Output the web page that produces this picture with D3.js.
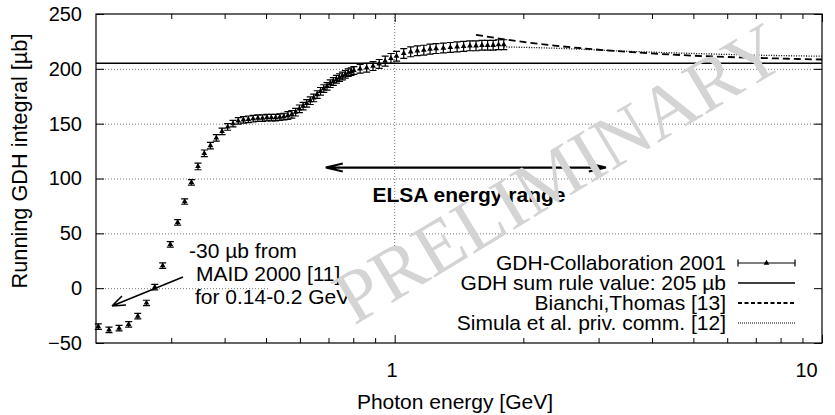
<!DOCTYPE html>
<html><head><meta charset="utf-8">
<script src="https://cdn.jsdelivr.net/npm/d3@7/dist/d3.min.js"></script>
<style>body{margin:0;background:#fff}</style>
</head><body>
<svg id="c" width="835" height="415"></svg>
<script>
// ---- data ----
const energyMAMI = [0.2025,0.2145,0.2265,0.2385,0.2505,0.2625,0.2745,0.2865,0.2985,0.3105,
  0.3225,0.3345,0.3465,0.3585,0.3705,0.3825,0.3945,0.4065,0.4185,0.4305,
  0.4425,0.4545,0.4665,0.4785,0.4905,0.5025,0.5145,0.5265,0.5385,0.5505,
  0.5625,0.5745,0.5865,0.5985,0.6105,0.6225,0.6345,0.6465,0.6585,0.6705,
  0.6825,0.6945,0.7065,0.7185,0.7305,0.7425,0.7545,0.7665,0.7785,0.7905,0.8025];
const valueMAMI = [-35,-38,-36.5,-33,-25.5,-13.5,1,20.5,40,60,
  79,96.5,111,123,130,137,143,147,150,152.5,
  153.5,154,154.5,155,155,155.5,155.5,155.5,156,156.5,
  157.5,158.5,160.5,163.5,166,168.5,171,173.5,176.5,179.5,
  182,184,186.5,188.5,190.5,192,193.5,195,196.5,197.5,198.5];
const errorMAMI = [2.5,2.5,2.5,2.5,2.5,2.5,2.5,2.5,2.5,2.5,
  2.5,2.5,3,3,3,3,3,3,3,3,
  3,3,3,3,3,3,3,3,3,3,
  3.5,3.5,3.5,3.5,3.5,3.5,3.5,3.5,3.5,3.5,
  3.5,3.5,3.5,3.5,3.5,3.5,3.5,3.5,3.5,3.5,3.5];
const energyELSA = [0.83,0.86,0.89,0.92,0.95,0.98,1.01,1.05,1.09,1.13,1.17,1.21,
  1.25,1.30,1.35,1.40,1.45,1.50,1.55,1.60,1.65,1.70,1.75,1.80];
const valueELSA = [200,201,202.5,204.5,207,209.5,211.5,214,215.5,216.5,217,218,
  218.5,219,219.5,220,220.5,221,221,221.5,221.5,221.5,222,222];
const errorELSA = [4,4,4,4,4.5,4.5,4.5,4.5,4.5,4.5,4.5,4.5,
  4.5,4.5,4.5,4.5,4.5,4.5,4.5,4.5,4.5,4.5,4.5,4.5];
const bianchiE = [1.55,2.0,2.7,3.5,5.0,7.0,10.0];
const bianchiV = [231,224.5,219,215.5,212,210,208.5];
const simulaE = [1.8,2.5,3.5,5.0,7.0,10.0];
const simulaV = [220,218.5,216,214,212.5,211.5];
const sumRuleValue = 205;
const yTickValues = [-50,0,50,100,150,200,250];
const yGridValues = [0,50,100,150,200];
const xMajorTicks = [1,10];
const xMinorTicks = [0.3,0.4,0.5,0.6,0.7,0.8,0.9,2,3,4,5,6,7,8,9];
const xGridValues = [1];
const elsaRange = [0.69, 3.12];
const elsaArrowY = 110;
const legendTitles = ["GDH-Collaboration 2001","GDH sum rule value: 205 µb","Bianchi,Thomas [13]","Simula et al. priv. comm. [12]"];
const maidLines = ["-30 µb from","MAID 2000 [11]","for 0.14-0.2 GeV"];

// ---- layout ----
const L=96,R=822,T=14,B=343;
const svg=d3.select("#c");
const x=d3.scaleLog().domain([0.2,10]).range([L,R]);
const y=d3.scaleLinear().domain([-50,250]).range([B,T]);
const SANS="Liberation Sans, Arial, Helvetica, sans-serif";
const FS=21;

// grid
const grid=svg.append("g").attr("stroke","#777").attr("stroke-width",1).attr("stroke-dasharray","1,2");
grid.selectAll("line.h").data(yGridValues).join("line").attr("x1",L).attr("x2",R)
  .attr("y1",d=>y(d)+0.5).attr("y2",d=>y(d)+0.5);
grid.selectAll("line.v").data(xGridValues).join("line").attr("x1",d=>x(d)).attr("x2",d=>x(d))
  .attr("y1",T).attr("y2",B);

// opaque key background
svg.append("rect").attr("x",270).attr("y",250).attr("width",R-270).attr("height",B-250).attr("fill","#fff");

// sum rule line
svg.append("line").attr("x1",L).attr("x2",R).attr("y1",y(sumRuleValue)).attr("y2",y(sumRuleValue))
  .attr("stroke","#000").attr("stroke-width",1.5);

const line=d3.line().x(d=>x(d[0])).y(d=>y(d[1])).curve(d3.curveMonotoneX);
svg.append("path").datum(bianchiE.map((e,i)=>[e,bianchiV[i]])).attr("d",line)
  .attr("fill","none").attr("stroke","#000").attr("stroke-width",1.8).attr("stroke-dasharray","7,4");
svg.append("path").datum(simulaE.map((e,i)=>[e,simulaV[i]])).attr("d",line)
  .attr("fill","none").attr("stroke","#000").attr("stroke-width",1.3).attr("stroke-dasharray","1,1.5");

// data points
const pts=energyMAMI.map((e,i)=>({e,v:valueMAMI[i],s:errorMAMI[i]}))
  .concat(energyELSA.map((e,i)=>({e,v:valueELSA[i],s:errorELSA[i]})));
const tri=d3.symbol().type(d3.symbolTriangle).size(14);
const pg=svg.append("g");
const eb=pg.selectAll("g").data(pts).join("g").attr("transform",d=>`translate(${x(d.e)},0)`);
eb.append("path").attr("d",d=>{const a=y(d.v+d.s),b=y(d.v-d.s);return `M0,${a}V${b}M-3.5,${a}H3.5M-3.5,${b}H3.5`;})
  .attr("stroke","#000").attr("stroke-width",1.2).attr("fill","none");
eb.append("path").attr("d",tri).attr("transform",d=>`translate(0,${y(d.v)})`).attr("fill","#000");

// axes
const tickLen=8, minLen=5;
const axB=d3.axisBottom(x).tickValues(xMajorTicks).tickSize(-tickLen).tickPadding(tickLen+12).tickFormat(d3.format("d"));
const gB=svg.append("g").attr("transform",`translate(0,${B})`).call(axB);
const axBm=d3.axisBottom(x).tickValues(xMinorTicks).tickSize(-minLen).tickFormat("");
svg.append("g").attr("transform",`translate(0,${B})`).call(axBm);
svg.append("g").attr("transform",`translate(0,${T})`).call(d3.axisTop(x).tickValues(xMajorTicks).tickSize(-tickLen).tickFormat(""));
svg.append("g").attr("transform",`translate(0,${T})`).call(d3.axisTop(x).tickValues(xMinorTicks).tickSize(-minLen).tickFormat(""));
const gL=svg.append("g").attr("transform",`translate(${L},0)`).call(d3.axisLeft(y).tickValues(yTickValues).tickSize(-tickLen).tickPadding(tickLen+6));
svg.append("g").attr("transform",`translate(${R},0)`).call(d3.axisRight(y).tickValues(yTickValues).tickSize(-tickLen).tickFormat(""));
svg.selectAll(".domain").remove();
svg.selectAll(".tick line").attr("stroke","#000");
svg.selectAll(".tick text").style("font-size","20px").style("font-family",SANS).attr("fill","#000");
gB.selectAll(".tick text").attr("dx",d=>d===10?-16:-3);
// frame
svg.append("rect").attr("x",L).attr("y",T).attr("width",R-L).attr("height",B-T).attr("fill","none").attr("stroke","#000").attr("stroke-width",1.2);

function txt(xp,yp,t,anchor,size,weight){
  return svg.append("text").attr("x",xp).attr("y",yp).attr("text-anchor",anchor||"start")
    .style("font-family",SANS).style("font-size",(size||FS)+"px").style("font-weight",weight||"normal").text(t);
}
// axis titles
svg.append("text").attr("transform",`translate(27,161) rotate(-90)`).attr("text-anchor","middle")
  .style("font-family",SANS).style("font-size","21.7px").text("Running GDH integral [µb]");
txt(455,409,"Photon energy [GeV]","middle");

// ELSA arrow
const ay=y(elsaArrowY), ax1=x(elsaRange[0]), ax2=x(elsaRange[1]);
svg.append("path").attr("d",`M${ax1},${ay}H${ax2}M${ax1+17},${ay-4}L${ax1},${ay}L${ax1+17},${ay+4}M${ax2-17},${ay-4}L${ax2},${ay}L${ax2-17},${ay+4}`)
  .attr("stroke","#000").attr("stroke-width",2.2).attr("fill","none");
txt(469,202,"ELSA energy range","middle",FS,"bold");

// MAID annotation
const mx=[189,196,195], my=[258,281,304];
maidLines.forEach((t,i)=>txt(mx[i],my[i],t));
svg.append("path").attr("d","M183,277L112,306M112,306L126,305M112,306L122,296").attr("stroke","#000").attr("stroke-width",1.6).attr("fill","none");

// legend
const lx=726, ly=[270,290,310,330], s1=738, s2=795;
legendTitles.forEach((t,i)=>txt(lx,ly[i],t,"end"));
const l0=ly[0]-7;
svg.append("path").attr("d",`M${s1},${l0}H${s2}M${s1},${l0-3.5}V${l0+3.5}M${s2},${l0-3.5}V${l0+3.5}`).attr("stroke","#000").attr("stroke-width",1.2);
svg.append("path").attr("d",tri).attr("transform",`translate(${(s1+s2)/2},${l0})`).attr("fill","#000");
svg.append("line").attr("x1",s1).attr("x2",s2).attr("y1",ly[1]-7).attr("y2",ly[1]-7).attr("stroke","#000").attr("stroke-width",1.5);
svg.append("line").attr("x1",s1).attr("x2",s2).attr("y1",ly[2]-7).attr("y2",ly[2]-7).attr("stroke","#000").attr("stroke-width",1.8).attr("stroke-dasharray","4,2.5");
svg.append("line").attr("x1",s1).attr("x2",s2).attr("y1",ly[3]-7).attr("y2",ly[3]-7).attr("stroke","#000").attr("stroke-width",1.2).attr("stroke-dasharray","1,1");

// watermark
svg.append("text").attr("transform","translate(563,180) rotate(-31)").attr("text-anchor","middle").attr("dominant-baseline","middle")
  .style("font-family","Liberation Serif, Times New Roman, serif").style("font-size","75px").attr("fill","#d4d4d4").text("PRELIMINARY");
</script>
</body></html>
